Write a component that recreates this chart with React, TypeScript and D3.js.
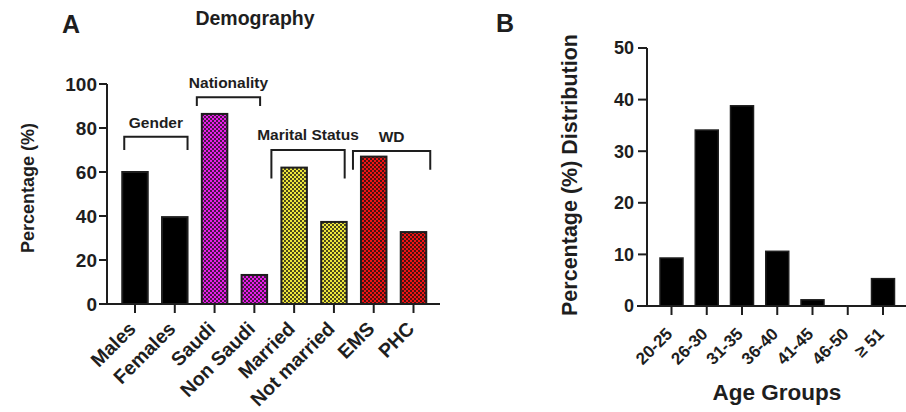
import React from "react";
import { scaleLinear, scalePoint } from "d3";

// panel A data
const demoCats = ["Males", "Females", "Saudi", "Non Saudi", "Married", "Not married", "EMS", "PHC"];
const demoValues = [60, 39.5, 86.4, 13.2, 62, 37.3, 67, 32.7];
const demoFill = ["black", "black", "url(#pMag)", "url(#pMag)", "url(#pYel)", "url(#pYel)", "url(#pRed)", "url(#pRed)"];
const demoTicks = [0, 20, 40, 60, 80, 100];

// category groups shown with brackets
const groupLabels = ["Gender", "Nationality", "Marital Status", "WD"];
const groupFrom = [0, 2, 4, 6];
const groupTo = [1, 3, 5, 7];

// bracket placement (values in chart units on y)
const bracketLayout = [
  { top: 76, bottom: 70, dx1: 2, dx2: 0, textY: 128 },
  { top: 94, bottom: 90, dx1: -5, dx2: -7, textY: 88 },
  { top: 70, bottom: 57, dx1: -10, dx2: -2, textY: 140 },
  { top: 69.5, bottom: 61, dx1: -8, dx2: 4, textY: 142 },
];

// panel B data
const ageCats = ["20-25", "26-30", "31-35", "36-40", "41-45", "46-50", "≥ 51"];
const ageValues = [9.3, 34.1, 38.8, 10.6, 1.2, 0, 5.3];
const ageTicks = [0, 10, 20, 30, 40, 50];

const font = "'Liberation Sans', Arial, sans-serif";
const ink = "#1e1e1e";

const Pattern = ({ id, color }) => (
  <pattern id={id} width={4} height={4} patternUnits="userSpaceOnUse">
    <rect width={4} height={4} fill={color} />
    <circle cx={1} cy={1} r={1} fill="#111" />
    <circle cx={3} cy={3} r={1} fill="#111" />
  </pattern>
);

export default function App() {
  const xA = scalePoint().domain(demoCats).range([135, 413.5]);
  const yA = scaleLinear().domain([0, 100]).range([304, 84]);
  const bwA = 25.5;

  const xB = scalePoint().domain(ageCats).range([671.5, 883]);
  const yB = scaleLinear().domain([0, 50]).range([306, 48]);
  const bwB = 23;

  return (
    <svg width={906} height={412} style={{ position: "absolute", left: 0, top: 0, background: "white" }}
      fontFamily={font} fontWeight="bold" fill={ink}>
      <defs>
        <Pattern id="pMag" color="#e81ee8" />
        <Pattern id="pYel" color="#eee63c" />
        <Pattern id="pRed" color="#f01414" />
      </defs>

      {/* ---- panel A ---- */}
      <text x={62} y={33} fontSize={25}>A</text>
      <text x={255} y={25} fontSize={19.5} textAnchor="middle">Demography</text>
      <text transform="translate(34,188) rotate(-90)" fontSize={18} textAnchor="middle">Percentage (%)</text>

      {demoCats.map((c, i) => (
        <rect key={c} x={xA(c) - bwA / 2} y={yA(demoValues[i])} width={bwA} height={yA(0) - yA(demoValues[i])}
          fill={demoFill[i]} stroke={ink} strokeWidth={2} />
      ))}

      <line x1={107} x2={107} y1={yA(100)} y2={yA(0)} stroke={ink} strokeWidth={2} />
      <line x1={100} x2={440} y1={yA(0)} y2={yA(0)} stroke={ink} strokeWidth={2} />
      {demoTicks.map((t) => (
        <g key={t}>
          <line x1={99} x2={107} y1={yA(t)} y2={yA(t)} stroke={ink} strokeWidth={2} />
          <text x={97} y={yA(t)} dy="0.36em" textAnchor="end" fontSize={19}>{t}</text>
        </g>
      ))}
      {demoCats.map((c) => (
        <g key={c}>
          <line x1={xA(c)} x2={xA(c)} y1={yA(0)} y2={yA(0) + 9} stroke={ink} strokeWidth={2} />
          <text transform={`translate(${xA(c) + 2},${yA(0) + 26}) rotate(-45)`} textAnchor="end" fontSize={19.5}>{c}</text>
        </g>
      ))}

      {groupLabels.map((g, i) => {
        const b = bracketLayout[i];
        const x1 = xA(demoCats[groupFrom[i]]) - bwA / 2 + b.dx1;
        const x2 = xA(demoCats[groupTo[i]]) + bwA / 2 + b.dx2;
        return (
          <g key={g}>
            <path d={`M${x1},${yA(b.bottom)}V${yA(b.top)}H${x2}V${yA(b.bottom)}`} fill="none" stroke={ink} strokeWidth={2} />
            <text x={(x1 + x2) / 2} y={b.textY} textAnchor="middle" fontSize={15.5}>{g}</text>
          </g>
        );
      })}

      {/* ---- panel B ---- */}
      <text x={496} y={32} fontSize={25}>B</text>
      <text transform="translate(577,175) rotate(-90)" fontSize={21.5} textAnchor="middle">Percentage (%) Distribution</text>
      <text x={777} y={400} fontSize={22.5} textAnchor="middle">Age Groups</text>

      {ageCats.map((c, i) => (
        <rect key={c} x={xB(c) - bwB / 2} y={yB(ageValues[i])} width={bwB} height={yB(0) - yB(ageValues[i])}
          fill="black" stroke={ink} strokeWidth={1.5} />
      ))}

      <line x1={647} x2={647} y1={yB(50)} y2={yB(0)} stroke={ink} strokeWidth={2} />
      <line x1={637} x2={906} y1={yB(0)} y2={yB(0)} stroke={ink} strokeWidth={2} />
      {ageTicks.map((t) => (
        <g key={t}>
          <line x1={638} x2={647} y1={yB(t)} y2={yB(t)} stroke={ink} strokeWidth={2} />
          <text x={634} y={yB(t)} dy="0.36em" textAnchor="end" fontSize={18}>{t}</text>
        </g>
      ))}
      {ageCats.map((c) => (
        <g key={c}>
          <line x1={xB(c)} x2={xB(c)} y1={yB(0)} y2={yB(0) + 9} stroke={ink} strokeWidth={2} />
          <text transform={`translate(${xB(c) + 2},${yB(0) + 29}) rotate(-45)`} textAnchor="end" fontSize={17}>{c}</text>
        </g>
      ))}
    </svg>
  );
}
